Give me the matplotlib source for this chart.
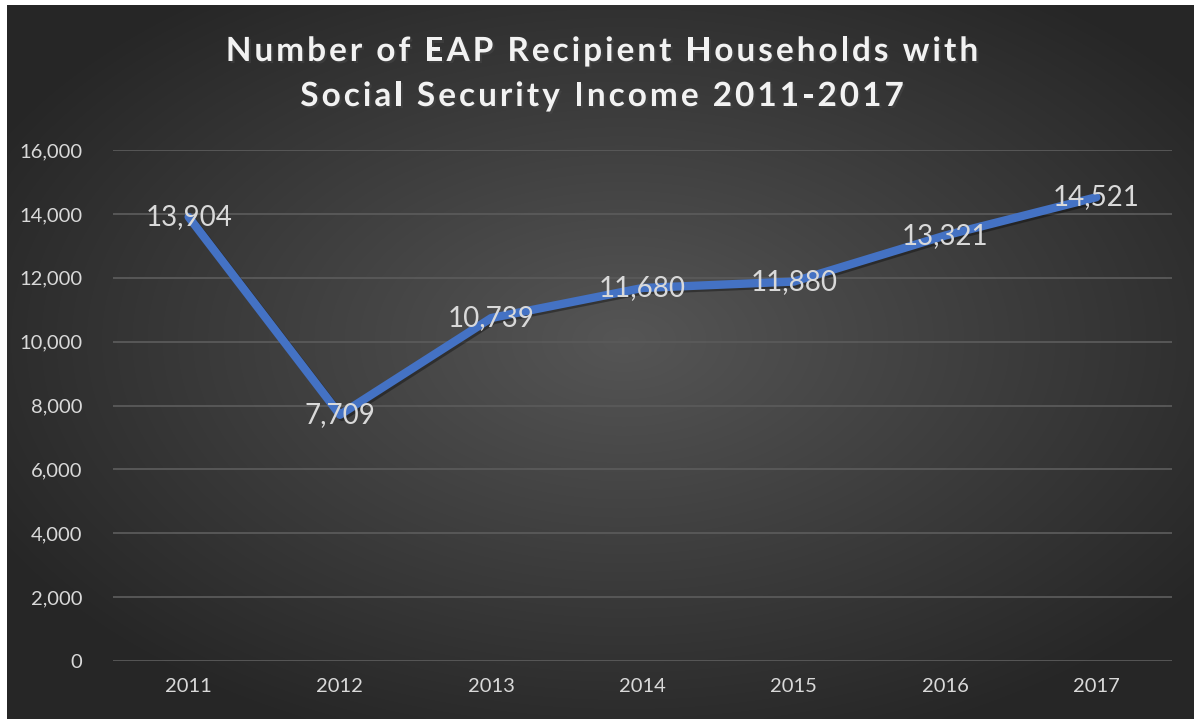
import matplotlib
matplotlib.use('Agg')
import matplotlib.pyplot as plt
import matplotlib.patheffects as pe
from matplotlib.ticker import FuncFormatter
from matplotlib.font_manager import FontProperties
import numpy as np

years = ['2011', '2012', '2013', '2014', '2015', '2016', '2017']
households = [13904, 7709, 10739, 11680, 11880, 13321, 14521]
y_ticks = [0, 2000, 4000, 6000, 8000, 10000, 12000, 14000, 16000]

title_lines = ['Number of EAP Recipient Households with',
               'Social Security Income 2011-2017']

LINE = '#4472C4'
TXT = '#D9D9D9'
GRID = '#5A5A5A'

plt.rcParams['font.family'] = ['Lato', 'DejaVu Sans']

W, H = 1194, 719
fig = plt.figure(figsize=(W / 100, H / 100), dpi=100, facecolor='white')

# dark radial backdrop, a white margin left/top
bg = fig.add_axes([7 / W, 0, 1 - 7 / W, 1 - 5 / H], zorder=0)
gx, gy = np.meshgrid(np.linspace(0, 1, 600), np.linspace(0, 1, 360))
r = np.sqrt(((gx - 0.52) / 0.62) ** 2 + ((gy - 0.47) / 0.62) ** 2)
shade = np.clip(0.335 - 0.19 * r, 0.15, 0.34)
bg.imshow(np.dstack([shade] * 3), aspect='auto', extent=[0, 1, 0, 1],
          interpolation='bilinear')
bg.axis('off')

ax = fig.add_axes([113 / W, 1 - 661 / H, (1172 - 113) / W, (661 - 150) / H], zorder=1)
ax.patch.set_alpha(0)
x = np.arange(len(years))
ax.plot(x, households, color=LINE, lw=6, solid_capstyle='round', solid_joinstyle='round',
        zorder=3,
        path_effects=[pe.SimpleLineShadow(offset=(1.5, -1.5), alpha=0.35, shadow_color='black'),
                      pe.Normal()])
for xi, v in zip(x, households):
    ax.text(xi, v, f'{v:,}', ha='center', va='center', fontsize=20, color=TXT, zorder=4)

ax.set_xlim(-0.5, len(years) - 0.5)
ax.set_ylim(0, 16000)
ax.set_yticks(y_ticks)
ax.yaxis.set_major_formatter(FuncFormatter(lambda v, p: f'{int(v):,}'))
ax.set_xticks(x)
ax.set_xticklabels(years)
ax.tick_params(length=0, labelsize=14.5, labelcolor=TXT)
ax.tick_params(axis='y', pad=22)
ax.tick_params(axis='x', pad=12)
ax.grid(axis='y', color=GRID, lw=1.3)
ax.set_axisbelow(True)
for sp in ax.spines.values():
    sp.set_visible(False)


# title with extra letter spacing, laid out one glyph at a time
renderer = fig.canvas.get_renderer()
tprop = FontProperties(family=['Lato', 'DejaVu Sans'], weight='bold', size=24)


def text_w(s):
    w, _, _ = renderer.get_text_width_height_descent(s, tprop, ismath=False)
    return w


def spaced_line(s, cx, base_y, track=3.0):
    bar = text_w('|')
    lefts = [text_w(s[:i] + '|') - bar for i in range(len(s))]
    total = text_w(s) + track * (len(s) - 1)
    x0 = cx - total / 2
    for i, ch in enumerate(s):
        if ch == ' ':
            continue
        fig.text((x0 + lefts[i] + track * i) / W, 1 - base_y / H, ch,
                 fontproperties=tprop, color='#F2F2F2', ha='left', va='baseline',
                 path_effects=[pe.withSimplePatchShadow(offset=(1.5, -1.5), alpha=0.5)])


spaced_line(title_lines[0], 602, 61)
spaced_line(title_lines[1], 602, 106)

fig.savefig('out.png', dpi=100, facecolor='white')
